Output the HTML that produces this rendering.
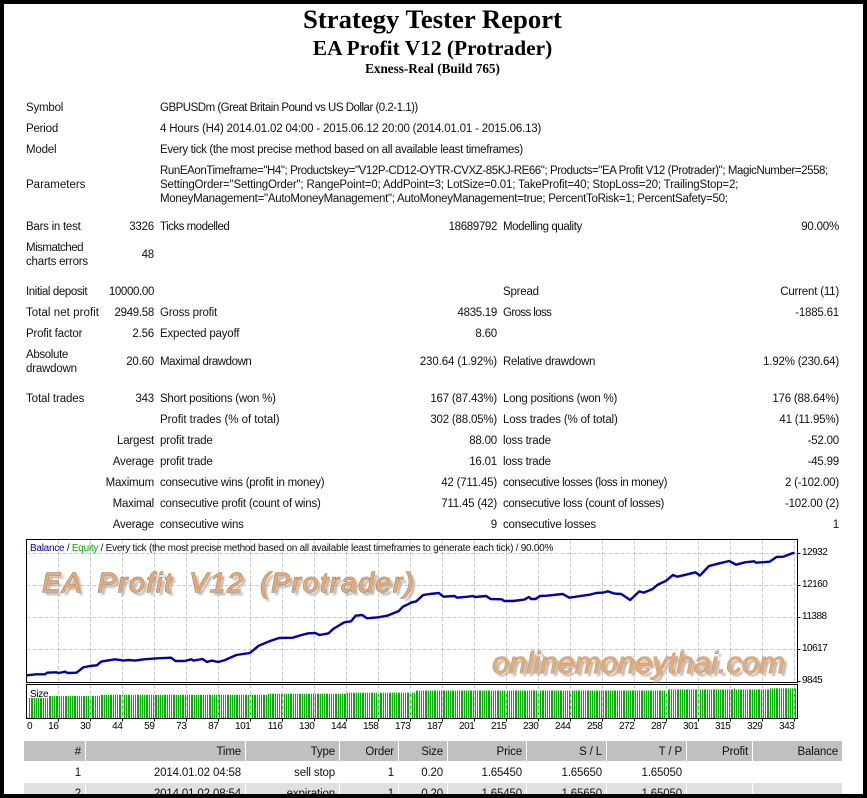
<!DOCTYPE html>
<html lang="en">
<head>
<meta charset="utf-8">
<title>Strategy Tester Report</title>
<style>
html,body{margin:0;padding:0;background:#fff;}
#page{position:relative;width:867px;height:798px;overflow:hidden;background:#fff;font-family:"Liberation Sans",sans-serif;font-size:11.5px;color:#111;}
#page div{position:absolute;white-space:nowrap;}
.t{height:14px;line-height:14px;margin-top:1px;letter-spacing:-0.2px;}
.a{left:26px;}
.b{right:713px;text-align:right;}
.c{left:160px;}
.d{right:370px;text-align:right;}
.e{left:503px;}
.f{right:28px;text-align:right;}
.h{left:0;width:865px;text-align:center;font-family:"Liberation Serif",serif;font-weight:bold;color:#000;}
.cell{height:20px;line-height:22px;text-align:right;box-sizing:border-box;padding-right:4px;letter-spacing:-0.15px;}
.th{top:741px;background:#c0c0c0;}
.r1{top:762px;}
.r2{top:783px;background:#e0e0e0;}
.edge{background:#000;z-index:10;}
.mark{font-family:"Liberation Sans",sans-serif;font-style:italic;color:#f7a85e;-webkit-text-stroke:1.2px #858585;paint-order:stroke fill;z-index:5;}
</style>
</head>
<body>
<div id="page">
<div class="h" style="top:4px;height:30px;line-height:30px;font-size:26.7px">Strategy Tester Report</div>
<div class="h" style="top:35px;height:26px;line-height:26px;font-size:21.4px">EA Profit V12 (Protrader)</div>
<div class="h" style="top:61px;height:16px;line-height:16px;font-size:13.2px">Exness-Real (Build 765)</div>

<div class="t a" style="top:100px">Symbol</div>
<div class="t c" style="top:100px;letter-spacing:-0.5px">GBPUSDm (Great Britain Pound vs US Dollar (0.2-1.1))</div>
<div class="t a" style="top:121px">Period</div>
<div class="t c" style="top:121px;letter-spacing:-0.18px">4 Hours (H4) 2014.01.02 04:00 - 2015.06.12 20:00 (2014.01.01 - 2015.06.13)</div>
<div class="t a" style="top:142px">Model</div>
<div class="t c" style="top:142px;letter-spacing:-0.33px">Every tick (the most precise method based on all available least timeframes)</div>
<div class="t a" style="top:177px;letter-spacing:0">Parameters</div>
<div class="t c" style="top:163px;letter-spacing:-0.42px">RunEAonTimeframe="H4"; Productskey="V12P-CD12-OYTR-CVXZ-85KJ-RE66"; Products="EA Profit V12 (Protrader)"; MagicNumber=2558;</div>
<div class="t c" style="top:177px;letter-spacing:-0.18px">SettingOrder="SettingOrder"; RangePoint=0; AddPoint=3; LotSize=0.01; TakeProfit=40; StopLoss=20; TrailingStop=2;</div>
<div class="t c" style="top:191px;letter-spacing:-0.27px">MoneyManagement="AutoMoneyManagement"; AutoMoneyManagement=true; PercentToRisk=1; PercentSafety=50;</div>

<div class="t a" style="top:219px;letter-spacing:-0.25px">Bars in test</div>
<div class="t b" style="top:219px">3326</div>
<div class="t c" style="top:219px;letter-spacing:-0.5px">Ticks modelled</div>
<div class="t d" style="top:219px;letter-spacing:-0.35px">18689792</div>
<div class="t e" style="top:219px;letter-spacing:-0.4px">Modelling quality</div>
<div class="t f" style="top:219px">90.00%</div>

<div class="t a" style="top:240px;letter-spacing:-0.5px">Mismatched</div>
<div class="t a" style="top:254px">charts errors</div>
<div class="t b" style="top:247px">48</div>

<div class="t a" style="top:284px;letter-spacing:-0.4px">Initial deposit</div>
<div class="t b" style="top:284px;letter-spacing:-0.35px">10000.00</div>
<div class="t e" style="top:284px">Spread</div>
<div class="t f" style="top:284px">Current (11)</div>

<div class="t a" style="top:305px;letter-spacing:0.05px">Total net profit</div>
<div class="t b" style="top:305px;letter-spacing:-0.3px">2949.58</div>
<div class="t c" style="top:305px">Gross profit</div>
<div class="t d" style="top:305px;letter-spacing:-0.3px">4835.19</div>
<div class="t e" style="top:305px;letter-spacing:-0.6px">Gross loss</div>
<div class="t f" style="top:305px">-1885.61</div>

<div class="t a" style="top:326px">Profit factor</div>
<div class="t b" style="top:326px">2.56</div>
<div class="t c" style="top:326px">Expected payoff</div>
<div class="t d" style="top:326px">8.60</div>

<div class="t a" style="top:347px;letter-spacing:-0.35px">Absolute</div>
<div class="t a" style="top:361px">drawdown</div>
<div class="t b" style="top:354px">20.60</div>
<div class="t c" style="top:354px;letter-spacing:-0.44px">Maximal drawdown</div>
<div class="t d" style="top:354px;letter-spacing:-0.1px">230.64 (1.92%)</div>
<div class="t e" style="top:354px;letter-spacing:-0.3px">Relative drawdown</div>
<div class="t f" style="top:354px">1.92% (230.64)</div>

<div class="t a" style="top:391px;letter-spacing:-0.1px">Total trades</div>
<div class="t b" style="top:391px">343</div>
<div class="t c" style="top:391px;letter-spacing:-0.25px">Short positions (won %)</div>
<div class="t d" style="top:391px">167 (87.43%)</div>
<div class="t e" style="top:391px;letter-spacing:-0.25px">Long positions (won %)</div>
<div class="t f" style="top:391px">176 (88.64%)</div>

<div class="t c" style="top:412px;letter-spacing:-0.05px">Profit trades (% of total)</div>
<div class="t d" style="top:412px">302 (88.05%)</div>
<div class="t e" style="top:412px;letter-spacing:-0.15px">Loss trades (% of total)</div>
<div class="t f" style="top:412px">41 (11.95%)</div>

<div class="t b" style="top:433px">Largest</div>
<div class="t c" style="top:433px">profit trade</div>
<div class="t d" style="top:433px">88.00</div>
<div class="t e" style="top:433px">loss trade</div>
<div class="t f" style="top:433px">-52.00</div>

<div class="t b" style="top:454px">Average</div>
<div class="t c" style="top:454px">profit trade</div>
<div class="t d" style="top:454px">16.01</div>
<div class="t e" style="top:454px">loss trade</div>
<div class="t f" style="top:454px">-45.99</div>

<div class="t b" style="top:475px">Maximum</div>
<div class="t c" style="top:475px;letter-spacing:-0.26px">consecutive wins (profit in money)</div>
<div class="t d" style="top:475px">42 (711.45)</div>
<div class="t e" style="top:475px;letter-spacing:-0.4px">consecutive losses (loss in money)</div>
<div class="t f" style="top:475px">2 (-102.00)</div>

<div class="t b" style="top:496px">Maximal</div>
<div class="t c" style="top:496px">consecutive profit (count of wins)</div>
<div class="t d" style="top:496px">711.45 (42)</div>
<div class="t e" style="top:496px;letter-spacing:-0.32px">consecutive loss (count of losses)</div>
<div class="t f" style="top:496px">-102.00 (2)</div>

<div class="t b" style="top:517px">Average</div>
<div class="t c" style="top:517px">consecutive wins</div>
<div class="t d" style="top:517px">9</div>
<div class="t e" style="top:517px">consecutive losses</div>
<div class="t f" style="top:517px">1</div>

<svg id="chart" width="867" height="798" style="position:absolute;left:0;top:0"></svg>

<div style="left:30px;top:542px;height:14px;line-height:14px;font-size:10px;letter-spacing:-0.26px;z-index:4"><span style="color:#0000b4">Balance</span> / <span style="color:#00b000">Equity</span> / Every tick (the most precise method based on all available least timeframes to generate each tick) / 90.00%</div>

<div class="mark" style="left:42px;top:566px;height:34px;line-height:34px;font-size:28px;letter-spacing:1.8px;word-spacing:6px;text-shadow:3px 3px 2px #a8a8a8">EA Profit V12 (Protrader)</div>
<div class="mark" style="left:492px;top:644px;height:38px;line-height:38px;font-size:31px;letter-spacing:0;-webkit-text-stroke:0.8px #858585;text-shadow:3px 3px 2px #a8a8a8">onlinemoneythai.com</div>

<div class="cell th" style="left:24px;width:61px">#</div>
<div class="cell th" style="left:86px;width:159px">Time</div>
<div class="cell th" style="left:246px;width:93px">Type</div>
<div class="cell th" style="left:340px;width:58px">Order</div>
<div class="cell th" style="left:399px;width:48px">Size</div>
<div class="cell th" style="left:448px;width:78px">Price</div>
<div class="cell th" style="left:527px;width:79px">S / L</div>
<div class="cell th" style="left:607px;width:79px">T / P</div>
<div class="cell th" style="left:687px;width:65px">Profit</div>
<div class="cell th" style="left:753px;width:89px">Balance</div>

<div class="cell r1" style="left:24px;width:61px">1</div>
<div class="cell r1" style="left:86px;width:159px">2014.01.02 04:58</div>
<div class="cell r1" style="left:246px;width:93px">sell stop</div>
<div class="cell r1" style="left:340px;width:58px">1</div>
<div class="cell r1" style="left:399px;width:48px">0.20</div>
<div class="cell r1" style="left:448px;width:78px">1.65450</div>
<div class="cell r1" style="left:527px;width:79px">1.65650</div>
<div class="cell r1" style="left:607px;width:79px">1.65050</div>

<div class="cell r2" style="left:24px;width:61px">2</div>
<div class="cell r2" style="left:86px;width:159px">2014.01.02 08:54</div>
<div class="cell r2" style="left:246px;width:93px">expiration</div>
<div class="cell r2" style="left:340px;width:58px">1</div>
<div class="cell r2" style="left:399px;width:48px">0.20</div>
<div class="cell r2" style="left:448px;width:78px">1.65450</div>
<div class="cell r2" style="left:527px;width:79px">1.65650</div>
<div class="cell r2" style="left:607px;width:79px">1.65050</div>
<div class="cell r2" style="left:687px;width:65px"></div>
<div class="cell r2" style="left:753px;width:89px"></div>

<div class="edge" style="left:0;top:0;width:867px;height:4px"></div>
<div class="edge" style="left:0;top:794px;width:867px;height:4px"></div>
<div class="edge" style="left:0;top:0;width:4px;height:798px"></div>
<div class="edge" style="left:863px;top:0;width:4px;height:798px"></div>
</div>

<script>
const xTickLabels = [16,30,44,59,73,87,101,116,130,144,158,173,187,201,215,230,244,258,272,287,301,315,329,343];
const yTickLabels = [12932,12160,11388,10617,9845];
const balanceTrades = [2,6,10,11,15,16,19,20,24,27,30,33,35,41,45,47,50,54,60,66,68,72,75,76,80,82,84,87,90,95,101,105,110,114,120,124,127,130,132,136,138,143,146,148,151,153,158,162,167,169,173,175,178,181,185,187,192,193,198,200,201,206,208,213,214,218,223,225,226,228,230,233,240,243,247,252,255,258,260,263,266,270,272,274,276,280,282,286,289,291,295,299,301,305,309,314,317,321,325,326,332,335,338,342,343];
const balanceValues = [9994,10018,10018,10058,10066,10050,10082,10050,10058,10187,10219,10235,10324,10380,10348,10364,10348,10380,10404,10420,10340,10340,10380,10348,10388,10316,10348,10316,10364,10484,10533,10709,10822,10894,10902,10967,11007,11015,10967,11007,11111,11272,11296,11433,11449,11369,11393,11433,11537,11650,11755,11779,11931,11955,11980,11891,11907,11867,11891,11907,11883,11907,11835,11827,11787,11787,11819,11883,11835,11835,11907,11915,11955,11867,11899,11939,11980,11988,12020,11964,11955,11811,11915,12020,11988,12076,12172,12277,12414,12373,12422,12478,12398,12631,12687,12751,12663,12719,12743,12711,12735,12848,12856,12936,12949];
const sizeRunEndTrades = [11,34,108,143,174,286,315,316,331,343];
const sizeRunLots = [0.20,0.22,0.23,0.24,0.25,0.27,0.28,0.29,0.28,0.29];

const NS = 'http://www.w3.org/2000/svg';
const svg = document.getElementById('chart');
const plot = {left:26.5, right:797.5, top:539.5, bottom:682.5, sizeTop:684.5, sizeBottom:718.5};
const tradePx = 2.2507;
const balancePx = 32 / 771.75;
function xScale(t){ return 58.5 + (t - xTickLabels[0]) * tradePx; }
function yScale(v){ return 553.5 + (yTickLabels[0] - v) * balancePx; }
function sizeScale(v){ return 717.5 - (v - 0.02) * 108; }
function xTickPos(i){ return xScale(xTickLabels[0]) + i * (xScale(xTickLabels[xTickLabels.length-1]) - xScale(xTickLabels[0])) / (xTickLabels.length - 1); }
function yTickPos(i){ return yScale(yTickLabels[0]) + i * 32; }
function make(tag, parent){ const el = document.createElementNS(NS, tag); parent.appendChild(el); return el; }
function seg(el, x1, y1, x2, y2, stroke){
  el.setAttribute('x1', x1); el.setAttribute('y1', y1);
  el.setAttribute('x2', x2); el.setAttribute('y2', y2);
  el.setAttribute('stroke', stroke);
}

yTickLabels.forEach(function(v, i){
  const y = yTickPos(i);
  if (i < yTickLabels.length - 1) {
    const g = make('line', svg);
    
    
    seg(g, plot.left, y, plot.right, y, '#c8c8c8');
    g.setAttribute('stroke-dasharray', '4 2');
  }
  const k = make('line', svg);
  
  
  seg(k, plot.right, y, plot.right + 3, y, '#000');
  const t = make('text', svg);
  
  
  t.setAttribute('x', 802);
  t.setAttribute('y', y + 1.5);
  t.setAttribute('font-family', '"Liberation Sans", sans-serif');
  t.setAttribute('font-size', '10');
  t.setAttribute('letter-spacing', '-0.5');
  t.setAttribute('fill', '#000');
  t.textContent = v;
});

let run = 0;
for (let t = 3; t <= xTickLabels[xTickLabels.length-1]; t++) {
  while (t > sizeRunEndTrades[run]) run++;
  const x0 = Math.round(xScale(t));
  const x1 = Math.round(xScale(t + 1));
  const top = sizeScale(sizeRunLots[run]);
  const b = make('rect', svg);
  
  
  b.setAttribute('x', x0);
  b.setAttribute('y', top);
  b.setAttribute('width', Math.max(1, x1 - x0 - 1));
  b.setAttribute('height', plot.sizeBottom - top);
  b.setAttribute('fill', '#00b000');
}

xTickLabels.forEach(function(v, i){
  const x = xTickPos(i);
  const g = make('line', svg);
  
  
  seg(g, x, plot.top, x, plot.bottom, '#c8c8c8');
  g.setAttribute('stroke-dasharray', '4 2');
  const g2 = make('line', svg);
  
  
  seg(g2, x, plot.sizeTop, x, plot.sizeBottom, '#c8c8c8');
  g2.setAttribute('stroke-dasharray', '4 2');
  const k = make('line', svg);
  
  
  seg(k, x, plot.sizeBottom, x, plot.sizeBottom + 3, '#000');
  const t = make('text', svg);
  
  
  t.setAttribute('x', x);
  t.setAttribute('y', 729);
  t.setAttribute('text-anchor', 'end');
  t.setAttribute('font-family', '"Liberation Sans", sans-serif');
  t.setAttribute('font-size', '10');
  t.setAttribute('letter-spacing', '-0.4');
  t.setAttribute('fill', '#000');
  t.textContent = v;
});

const zero = make('text', svg);


zero.setAttribute('x', 27);
zero.setAttribute('y', 729);
zero.setAttribute('font-family', '"Liberation Sans", sans-serif');
zero.setAttribute('font-size', '10');
zero.setAttribute('fill', '#000');
zero.textContent = '0';

const sizeLabel = make('text', svg);


sizeLabel.setAttribute('x', 30);
sizeLabel.setAttribute('y', 697);
sizeLabel.setAttribute('font-family', '"Liberation Sans", sans-serif');
sizeLabel.setAttribute('font-size', '10');
sizeLabel.setAttribute('letter-spacing', '-0.3');
sizeLabel.setAttribute('fill', '#000');
sizeLabel.textContent = 'Size';

const line = make('polyline', svg);


line.setAttribute('points', balanceTrades.map(function(t, i){ return xScale(t).toFixed(1) + ',' + yScale(balanceValues[i]).toFixed(1); }).join(' '));
line.setAttribute('fill', 'none');
line.setAttribute('stroke', '#0000aa');
line.setAttribute('stroke-width', '2.4');
line.setAttribute('stroke-linejoin', 'round');

const frameMain = make('rect', svg);


frameMain.setAttribute('x', plot.left);
frameMain.setAttribute('y', plot.top);
frameMain.setAttribute('width', plot.right - plot.left);
frameMain.setAttribute('height', plot.bottom - plot.top);
frameMain.setAttribute('fill', 'none');
frameMain.setAttribute('stroke', '#000');

const frameSize = make('rect', svg);


frameSize.setAttribute('x', plot.left);
frameSize.setAttribute('y', plot.sizeTop);
frameSize.setAttribute('width', plot.right - plot.left);
frameSize.setAttribute('height', plot.sizeBottom - plot.sizeTop);
frameSize.setAttribute('fill', 'none');
frameSize.setAttribute('stroke', '#000');
</script>
</body>
</html>
